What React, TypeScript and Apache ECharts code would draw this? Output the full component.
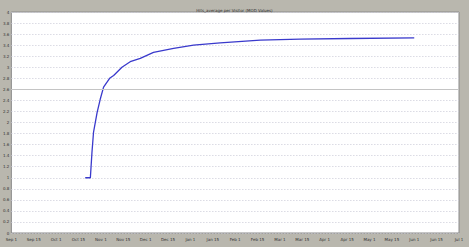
import React, { useEffect, useRef } from "react";
import * as echarts from "echarts";

const xTickLabels = [
  "Sep 1", "Sep 15", "Oct 1", "Oct 15", "Nov 1", "Nov 15", "Dec 1",
  "Dec 15", "Jan 1", "Jan 15", "Feb 1", "Feb 15", "Mar 1", "Mar 15",
  "Apr 1", "Apr 15", "May 1", "May 15", "Jun 1", "Jun 15", "Jul 1",
];
const xPos = [
  3.3, 3.53, 3.6, 3.67, 3.83, 3.97, 4.12, 4.39, 4.57, 4.94, 5.31, 5.76, 6.35,
  7.25, 8.14, 9.33, 11.12, 12.9, 15.13, 18.0,
];
const hitsAverage = [
  1.0, 1.0, 1.45, 1.82, 2.18, 2.42, 2.64, 2.8, 2.85, 3.0, 3.1, 3.16, 3.27,
  3.34, 3.4, 3.44, 3.49, 3.51, 3.52, 3.53,
];
const referenceLevel = [2.6];
const titleText = "Hits_average per Visitor (MOD Values)";

export default function App() {
  const ref = useRef<HTMLDivElement>(null);
  useEffect(() => {
    const chart = echarts.init(ref.current!, null, { renderer: "svg" });
    chart.setOption({
      animation: false,
      backgroundColor: "#b9b7ae",
      title: {
        text: titleText,
        left: "center",
        top: 3,
        textStyle: { fontSize: 4, fontWeight: "normal", color: "#333", fontFamily: "DejaVu Sans" },
      },
      grid: { left: 11, right: 10, top: 12, bottom: 14, show: true, backgroundColor: "#ffffff", borderColor: "#8a8a8a", borderWidth: 1 },
      xAxis: {
        type: "value",
        min: 0,
        max: 20,
        interval: 1,
        axisLine: { show: false },
        axisTick: { show: false },
        splitLine: { show: false },
        axisLabel: {
          fontSize: 4,
          color: "#333",
          margin: 4,
          fontFamily: "DejaVu Sans",
          formatter: (v: number) => xTickLabels[Math.round(v)] ?? "",
        },
      },
      yAxis: {
        type: "value",
        min: 0,
        max: 4,
        interval: 0.2,
        axisLine: { show: false },
        axisTick: { show: false },
        splitLine: { show: true, lineStyle: { color: "#c9c9d6", type: [1, 2], width: 1 } },
        axisLabel: { fontSize: 4, color: "#333", margin: 2, fontFamily: "DejaVu Sans" },
      },
      series: [
        {
          type: "line",
          data: xPos.map((x, i) => [x, hitsAverage[i]]),
          symbol: "none",
          smooth: false,
          lineStyle: { color: "#3a3acc", width: 1.3 },
          markLine: {
            silent: true,
            symbol: "none",
            label: { show: false },
            lineStyle: { color: "#c4c4c4", type: "solid", width: 1 },
            data: referenceLevel.map((v) => ({ yAxis: v })),
          },
        },
      ],
    });
    return () => chart.dispose();
  }, []);
  return <div ref={ref} style={{ position: "fixed", left: 0, top: 0, width: 469, height: 247 }} />;
}
